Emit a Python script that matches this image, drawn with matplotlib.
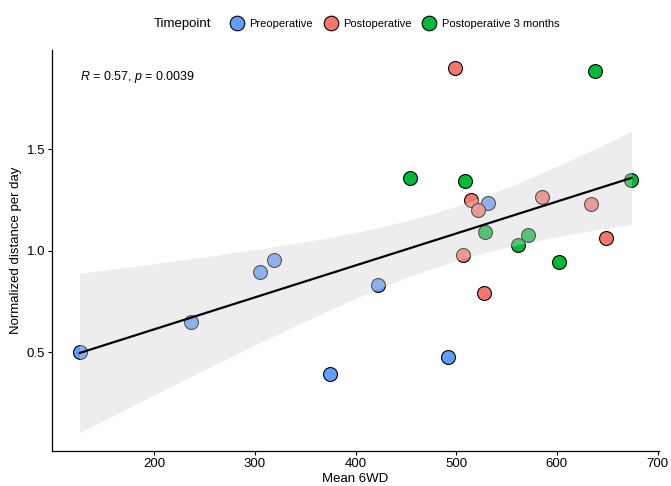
import numpy as np
import matplotlib
matplotlib.use("Agg")
import matplotlib.pyplot as plt
from matplotlib.lines import Line2D

plt.rcParams['font.family'] = ['Liberation Sans', 'DejaVu Sans']
plt.rcParams['mathtext.fontset'] = 'custom'
plt.rcParams['mathtext.rm'] = 'Liberation Sans'
plt.rcParams['mathtext.it'] = 'Liberation Sans:italic'

# data
groups = ["Preoperative", "Postoperative", "Postoperative 3 months"]
colors = ["#619CFF", "#F8766D", "#00BA38"]

pre_x = [126, 237, 305, 319, 375, 422, 492, 532]
pre_y = [0.499, 0.647, 0.895, 0.956, 0.394, 0.831, 0.475, 1.236]
post_x = [499, 515, 522, 585, 634, 507, 649, 528]
post_y = [1.899, 1.248, 1.202, 1.266, 1.230, 0.980, 1.063, 0.793]
post3_x = [638, 454, 509, 674, 529, 571, 561, 602]
post3_y = [1.887, 1.357, 1.344, 1.348, 1.094, 1.079, 1.027, 0.946]

xs = [pre_x, post_x, post3_x]
ys = [pre_y, post_y, post3_y]
x_ticks = [200, 300, 400, 500, 600, 700]
y_ticks = [0.5, 1.0, 1.5]
cor_label = "$R$ = 0.57, $p$ = 0.0039"

# linear fit with 95% confidence band (like geom_smooth(method="lm"))
allx = np.concatenate([np.array(v, float) for v in xs])
ally = np.concatenate([np.array(v, float) for v in ys])
n = len(allx)
b, a = np.polyfit(allx, ally, 1)
resid = ally - (a + b * allx)
s = np.sqrt(np.sum(resid ** 2) / (n - 2))
tcrit = 2.0739  # t(0.975, df=22)
grid = np.linspace(allx.min(), allx.max(), 100)
fit = a + b * grid
se = s * np.sqrt(1.0 / n + (grid - allx.mean()) ** 2 / np.sum((allx - allx.mean()) ** 2))
lo = fit - tcrit * se
hi = fit + tcrit * se

fig = plt.figure(figsize=(6.71, 4.86), dpi=100)
ax = fig.add_axes([52 / 671, 35 / 486, 607 / 671, 401 / 486])

for gx, gy, c in zip(xs, ys, colors):
    ax.scatter(gx, gy, s=100, c=c, edgecolors="black", linewidths=0.8, zorder=2)

ax.fill_between(grid, lo, hi, color="#D3D3D3", alpha=0.4, linewidth=0, zorder=3)
ax.plot(grid, fit, color="black", lw=1.6, zorder=4)

# ggplot-like 5% expansion
xmin, xmax = allx.min(), allx.max()
ymin = min(ally.min(), lo.min())
ymax = max(ally.max(), hi.max())
ax.set_xlim(xmin - 0.05 * (xmax - xmin), xmax + 0.05 * (xmax - xmin))
ax.set_ylim(ymin - 0.05 * (ymax - ymin), ymax + 0.05 * (ymax - ymin))

ax.set_xticks(x_ticks)
ax.set_yticks(y_ticks)
ax.set_yticklabels(["%.1f" % v for v in y_ticks])
ax.tick_params(labelsize=9.5, length=3, width=0.8, colors="black", pad=2)
for side in ["top", "right"]:
    ax.spines[side].set_visible(False)
for side in ["left", "bottom"]:
    ax.spines[side].set_linewidth(0.9)
ax.set_xlabel("Mean 6WD", fontsize=9.5, labelpad=2)
ax.set_ylabel("Normalized distance per day", fontsize=9.5, labelpad=3)

ax.text(0.046, 0.933, cor_label, transform=ax.transAxes, fontsize=9, va="center", ha="left")

handles = [Line2D([], [], marker="o", ls="", markersize=10.5, markerfacecolor=c,
                  markeredgecolor="black", markeredgewidth=0.8) for c in colors]
fig.text(183 / 671, 1 - 24 / 486, "Timepoint", fontsize=9.5, ha="center", va="center")
fig.legend(handles, groups, loc="center", bbox_to_anchor=(395 / 671, 1 - 24 / 486), ncol=3,
           frameon=False, fontsize=8, handletextpad=0.5, columnspacing=1.0, handlelength=1.2)

fig.savefig("out.png", dpi=100)
